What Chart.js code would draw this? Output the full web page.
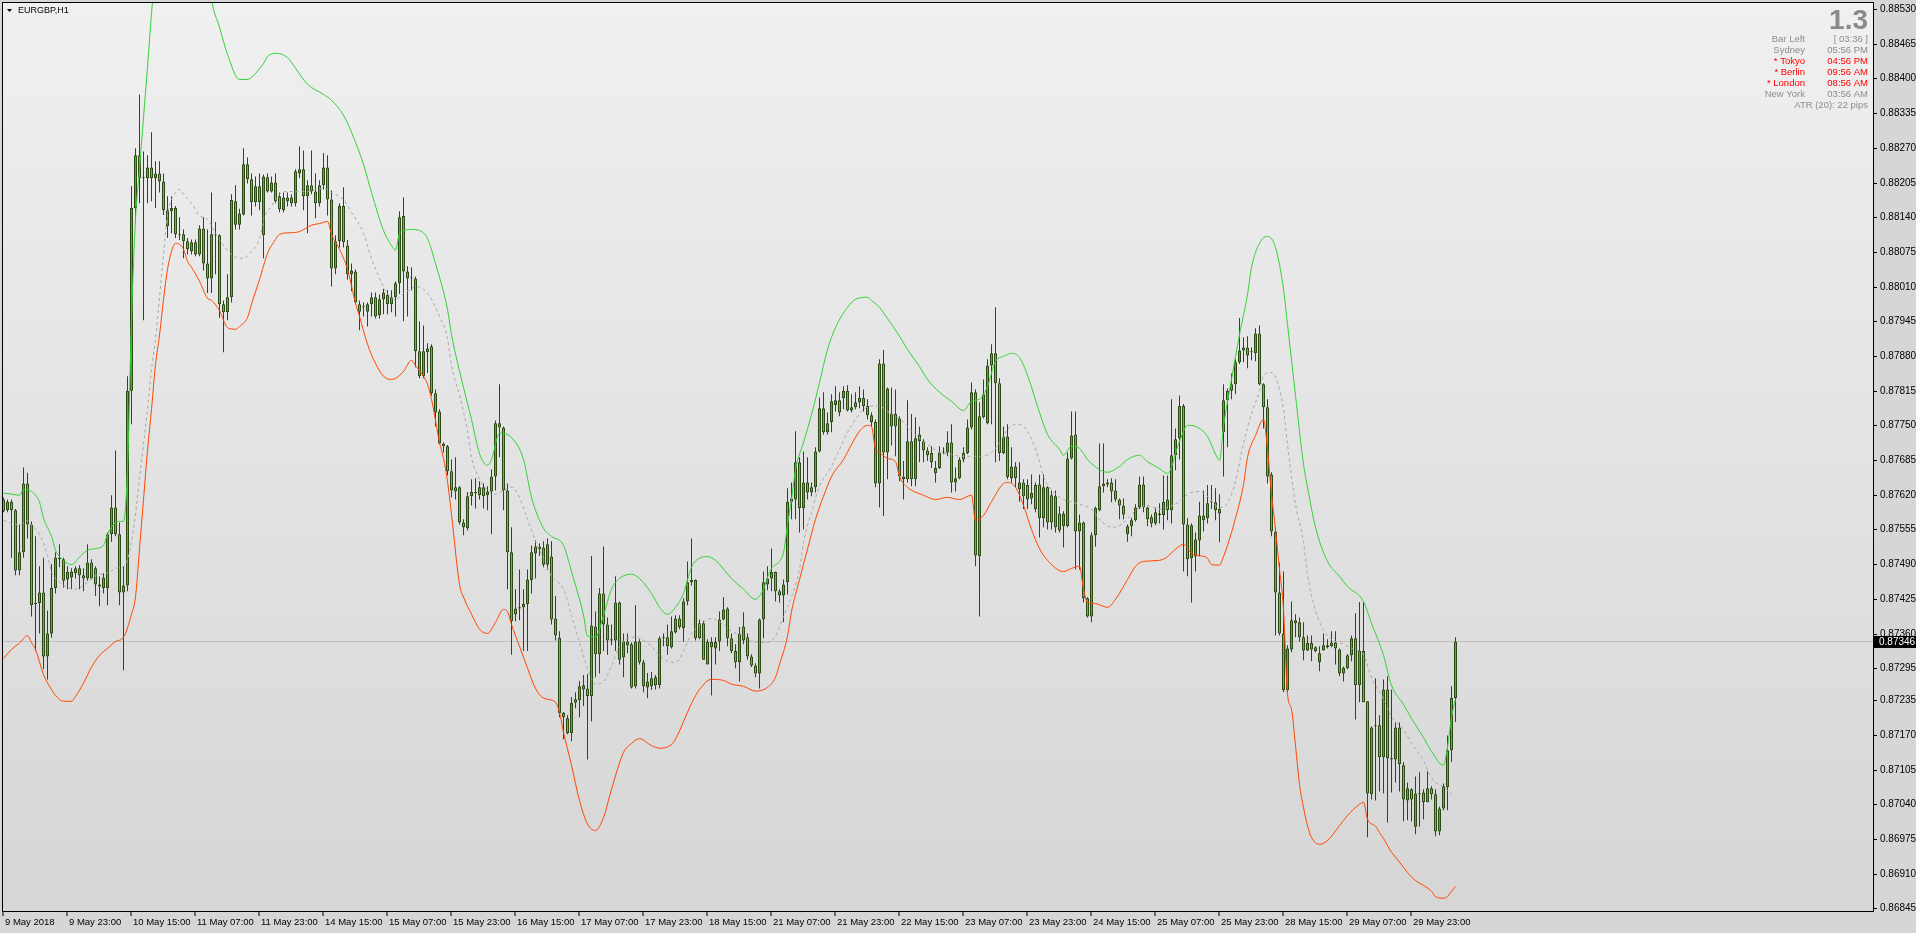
<!DOCTYPE html>
<html><head><meta charset="utf-8">
<script src="https://cdn.jsdelivr.net/npm/chart.js@4.4.1/dist/chart.umd.min.js"></script>
<style>html,body{margin:0;padding:0;background:#d6d6d6;overflow:hidden}canvas{display:block}</style>
</head><body>
<canvas id="c" width="1916" height="933"></canvas>
<script>
const symbolTitle = 'EURGBP,H1';
const timeLabelBars = [0,16,32,48,64,80,96,112,128,144,160,176,192,208,224,240,256,272,288,304,320,336,352];
const timeLabels = ['9 May 2018','9 May 23:00','10 May 15:00','11 May 07:00','11 May 23:00','14 May 15:00','15 May 07:00','15 May 23:00','16 May 15:00','17 May 07:00','17 May 23:00','18 May 15:00','21 May 07:00','21 May 23:00','22 May 15:00','23 May 07:00','23 May 23:00','24 May 15:00','25 May 07:00','25 May 23:00','28 May 15:00','29 May 07:00','29 May 23:00'];
const priceTicks = [0.88530,0.88465,0.88400,0.88335,0.88270,0.88205,0.88140,0.88075,0.88010,0.87945,0.87880,0.87815,0.87750,0.87685,0.87620,0.87555,0.87490,0.87425,0.87360,0.87295,0.87235,0.87170,0.87105,0.87040,0.86975,0.86910,0.86845];
const bidPrice = 0.87346;

const opens = [
0.87612,0.87592,0.87608,0.87592,0.87479,0.87513,0.87642,0.87565,0.87416,0.87418,
0.87438,0.87318,0.87361,0.87446,0.87500,0.87500,0.87462,0.87466,0.87474,0.87483,
0.87470,0.87464,0.87494,0.87483,0.87453,0.87446,0.87446,0.87547,0.87597,0.87547,
0.87438,0.87451,0.87816,0.88158,0.88257,0.88215,0.88214,0.88234,0.88214,0.88223,
0.88208,0.88124,0.88152,0.88158,0.88109,0.88109,0.88096,0.88077,0.88094,0.88071,
0.88120,0.88054,0.88026,0.88109,0.88107,0.87978,0.87963,0.87991,0.88171,0.88127,
0.88146,0.88240,0.88212,0.88169,0.88199,0.88107,0.88216,0.88189,0.88206,0.88180,
0.88154,0.88178,0.88178,0.88167,0.88223,0.88231,0.88180,0.88201,0.88189,0.88167,
0.88201,0.88234,0.88174,0.88045,0.88096,0.88162,0.88088,0.88034,0.88039,0.87978,
0.87974,0.87964,0.87978,0.87991,0.87957,0.87987,0.87995,0.87978,0.87991,0.88017,
0.88143,0.88039,0.88028,0.88026,0.87890,0.87843,0.87888,0.87899,0.87811,0.87777,
0.87717,0.87712,0.87665,0.87635,0.87635,0.87569,0.87558,0.87618,0.87626,0.87620,
0.87635,0.87620,0.87627,0.87655,0.87755,0.87747,0.87629,0.87513,0.87397,0.87408,
0.87410,0.87416,0.87461,0.87511,0.87524,0.87522,0.87490,0.87505,0.87389,0.87353,
0.87212,0.87202,0.87174,0.87231,0.87236,0.87256,0.87258,0.87244,0.87374,0.87322,
0.87436,0.87378,0.87348,0.87348,0.87419,0.87316,0.87346,0.87341,0.87262,0.87346,
0.87307,0.87260,0.87262,0.87279,0.87264,0.87352,0.87354,0.87335,0.87363,0.87389,
0.87371,0.87421,0.87457,0.87461,0.87380,0.87380,0.87345,0.87345,0.87333,0.87346,
0.87387,0.87408,0.87352,0.87328,0.87307,0.87374,0.87354,0.87318,0.87301,0.87286,
0.87387,0.87453,0.87464,0.87476,0.87440,0.87432,0.87457,0.87608,0.87612,0.87682,
0.87596,0.87644,0.87625,0.87635,0.87702,0.87783,0.87738,0.87757,0.87789,0.87798,
0.87802,0.87816,0.87779,0.87785,0.87794,0.87802,0.87787,0.87757,0.87757,0.87642,
0.87867,0.87700,0.87749,0.87772,0.87764,0.87655,0.87650,0.87721,0.87650,0.87721,
0.87721,0.87704,0.87699,0.87661,0.87671,0.87700,0.87700,0.87719,0.87644,0.87652,
0.87687,0.87699,0.87747,0.87813,0.87506,0.87766,0.87755,0.87863,0.87886,0.87830,
0.87699,0.87730,0.87652,0.87674,0.87631,0.87644,0.87639,0.87614,0.87639,0.87640,
0.87577,0.87635,0.87620,0.87618,0.87586,0.87562,0.87562,0.87689,0.87734,0.87552,
0.87569,0.87427,0.87393,0.87545,0.87592,0.87637,0.87640,0.87644,0.87629,0.87612,
0.87601,0.87547,0.87562,0.87573,0.87597,0.87640,0.87597,0.87579,0.87567,0.87583,
0.87583,0.87612,0.87592,0.87695,0.87727,0.87787,0.87565,0.87502,0.87505,0.87535,
0.87582,0.87577,0.87607,0.87607,0.87594,0.87738,0.87798,0.87816,0.87828,0.87869,
0.87891,0.87897,0.87888,0.87886,0.87923,0.87828,0.87785,0.87659,0.87552,0.87438,
0.87361,0.87255,0.87331,0.87386,0.87382,0.87354,0.87329,0.87343,0.87335,0.87307,
0.87329,0.87335,0.87337,0.87344,0.87331,0.87286,0.87296,0.87320,0.87352,0.87264,
0.87328,0.87234,0.87060,0.87187,0.87189,0.87129,0.87256,0.87125,0.87125,0.87185,
0.87114,0.87048,0.87069,0.86999,0.87061,0.87063,0.87045,0.87071,0.87060,0.86990,
0.87033,0.87073,0.87142,0.87240];

const highs = [
0.87616,0.87612,0.87612,0.87594,0.87565,0.87672,0.87662,0.87571,0.87543,0.87487,
0.87503,0.87404,0.87491,0.87513,0.87528,0.87503,0.87487,0.87483,0.87487,0.87489,
0.87483,0.87528,0.87500,0.87487,0.87468,0.87474,0.87550,0.87620,0.87704,0.87569,
0.87487,0.87843,0.88199,0.88270,0.88371,0.88264,0.88257,0.88300,0.88246,0.88246,
0.88223,0.88180,0.88180,0.88162,0.88141,0.88118,0.88102,0.88099,0.88099,0.88126,
0.88141,0.88118,0.88187,0.88132,0.88109,0.87985,0.88034,0.88184,0.88201,0.88157,
0.88270,0.88253,0.88223,0.88217,0.88223,0.88221,0.88223,0.88217,0.88223,0.88187,
0.88187,0.88187,0.88184,0.88231,0.88274,0.88266,0.88210,0.88266,0.88223,0.88210,
0.88261,0.88257,0.88191,0.88107,0.88167,0.88197,0.88098,0.88054,0.88043,0.87985,
0.87981,0.87981,0.88000,0.88000,0.87996,0.88007,0.88004,0.88004,0.88021,0.88152,
0.88178,0.88049,0.88047,0.88030,0.87946,0.87938,0.87905,0.87903,0.87818,0.87781,
0.87719,0.87714,0.87687,0.87691,0.87637,0.87575,0.87626,0.87650,0.87652,0.87646,
0.87642,0.87637,0.87668,0.87760,0.87828,0.87749,0.87642,0.87560,0.87444,0.87481,
0.87444,0.87481,0.87526,0.87536,0.87530,0.87534,0.87539,0.87534,0.87431,0.87365,
0.87214,0.87208,0.87242,0.87251,0.87272,0.87283,0.87285,0.87506,0.87402,0.87446,
0.87524,0.87391,0.87378,0.87468,0.87421,0.87361,0.87361,0.87344,0.87414,0.87350,
0.87312,0.87287,0.87289,0.87283,0.87356,0.87361,0.87378,0.87393,0.87395,0.87395,
0.87427,0.87496,0.87539,0.87462,0.87387,0.87385,0.87350,0.87354,0.87354,0.87402,
0.87429,0.87410,0.87361,0.87341,0.87373,0.87401,0.87361,0.87322,0.87305,0.87389,
0.87477,0.87487,0.87520,0.87477,0.87444,0.87462,0.87633,0.87644,0.87740,0.87691,
0.87702,0.87691,0.87644,0.87710,0.87803,0.87813,0.87775,0.87809,0.87824,0.87813,
0.87824,0.87826,0.87809,0.87813,0.87824,0.87818,0.87800,0.87775,0.87762,0.87875,
0.87892,0.87822,0.87822,0.87818,0.87768,0.87684,0.87798,0.87772,0.87766,0.87749,
0.87725,0.87710,0.87712,0.87684,0.87712,0.87710,0.87740,0.87753,0.87672,0.87691,
0.87710,0.87762,0.87831,0.87818,0.87794,0.87837,0.87875,0.87903,0.87972,0.87839,
0.87749,0.87753,0.87710,0.87682,0.87682,0.87650,0.87650,0.87659,0.87644,0.87659,
0.87659,0.87637,0.87629,0.87629,0.87599,0.87590,0.87700,0.87777,0.87777,0.87584,
0.87571,0.87429,0.87550,0.87599,0.87717,0.87717,0.87650,0.87652,0.87650,0.87614,
0.87614,0.87565,0.87578,0.87603,0.87655,0.87655,0.87599,0.87584,0.87597,0.87605,
0.87657,0.87657,0.87800,0.87745,0.87807,0.87791,0.87577,0.87567,0.87550,0.87608,
0.87629,0.87639,0.87639,0.87633,0.87622,0.87828,0.87820,0.87848,0.87875,0.87952,
0.87916,0.87918,0.87897,0.87933,0.87938,0.87830,0.87800,0.87663,0.87560,0.87494,
0.87477,0.87339,0.87421,0.87397,0.87391,0.87382,0.87357,0.87357,0.87337,0.87337,
0.87361,0.87350,0.87365,0.87365,0.87333,0.87299,0.87322,0.87357,0.87399,0.87420,
0.87420,0.87234,0.87187,0.87277,0.87208,0.87275,0.87281,0.87256,0.87194,0.87194,
0.87120,0.87082,0.87071,0.87093,0.87101,0.87069,0.87103,0.87075,0.87069,0.87037,
0.87080,0.87170,0.87262,0.87354];

const lows = [
0.87588,0.87588,0.87503,0.87470,0.87470,0.87503,0.87539,0.87393,0.87328,0.87361,
0.87294,0.87275,0.87353,0.87436,0.87485,0.87447,0.87444,0.87444,0.87464,0.87444,
0.87440,0.87460,0.87462,0.87431,0.87412,0.87436,0.87414,0.87533,0.87543,0.87414,
0.87292,0.87440,0.87753,0.88131,0.88167,0.87948,0.88167,0.88171,0.88158,0.88187,
0.88145,0.88102,0.88111,0.88102,0.88098,0.88064,0.88071,0.88071,0.88068,0.88068,
0.88041,0.87999,0.87999,0.88034,0.87952,0.87888,0.87948,0.87981,0.88118,0.88118,
0.88144,0.88204,0.88144,0.88161,0.88154,0.88064,0.88187,0.88187,0.88167,0.88150,
0.88150,0.88161,0.88161,0.88161,0.88214,0.88154,0.88111,0.88184,0.88139,0.88161,
0.88193,0.88144,0.88011,0.88034,0.88084,0.88084,0.88024,0.88002,0.87978,0.87929,
0.87955,0.87936,0.87955,0.87951,0.87951,0.87959,0.87959,0.87963,0.87955,0.87997,
0.87946,0.87955,0.88004,0.87860,0.87839,0.87839,0.87849,0.87807,0.87749,0.87715,
0.87700,0.87657,0.87616,0.87612,0.87565,0.87545,0.87554,0.87601,0.87595,0.87612,
0.87595,0.87592,0.87547,0.87629,0.87691,0.87592,0.87444,0.87321,0.87384,0.87386,
0.87328,0.87328,0.87436,0.87464,0.87506,0.87485,0.87481,0.87378,0.87348,0.87204,
0.87163,0.87172,0.87159,0.87221,0.87204,0.87225,0.87125,0.87196,0.87279,0.87286,
0.87328,0.87321,0.87339,0.87328,0.87303,0.87279,0.87324,0.87258,0.87258,0.87303,
0.87251,0.87240,0.87255,0.87256,0.87258,0.87337,0.87321,0.87333,0.87361,0.87369,
0.87346,0.87414,0.87451,0.87348,0.87350,0.87312,0.87303,0.87245,0.87303,0.87328,
0.87386,0.87337,0.87324,0.87296,0.87271,0.87341,0.87312,0.87298,0.87279,0.87258,
0.87352,0.87442,0.87440,0.87421,0.87419,0.87382,0.87434,0.87575,0.87575,0.87550,
0.87556,0.87612,0.87618,0.87625,0.87700,0.87734,0.87734,0.87738,0.87777,0.87768,
0.87781,0.87777,0.87775,0.87781,0.87783,0.87777,0.87762,0.87749,0.87635,0.87597,
0.87581,0.87650,0.87713,0.87693,0.87646,0.87612,0.87644,0.87637,0.87637,0.87682,
0.87682,0.87684,0.87671,0.87644,0.87669,0.87697,0.87693,0.87625,0.87627,0.87650,
0.87682,0.87697,0.87743,0.87487,0.87393,0.87764,0.87753,0.87753,0.87682,0.87684,
0.87697,0.87650,0.87644,0.87635,0.87608,0.87594,0.87594,0.87603,0.87588,0.87541,
0.87560,0.87556,0.87556,0.87550,0.87550,0.87522,0.87560,0.87687,0.87481,0.87481,
0.87419,0.87391,0.87382,0.87524,0.87590,0.87625,0.87635,0.87607,0.87608,0.87575,
0.87575,0.87533,0.87543,0.87571,0.87594,0.87588,0.87562,0.87560,0.87564,0.87567,
0.87556,0.87573,0.87567,0.87667,0.87687,0.87477,0.87468,0.87419,0.87477,0.87505,
0.87552,0.87567,0.87594,0.87573,0.87532,0.87655,0.87710,0.87800,0.87809,0.87866,
0.87869,0.87858,0.87873,0.87871,0.87826,0.87745,0.87642,0.87543,0.87357,0.87357,
0.87251,0.87251,0.87326,0.87354,0.87346,0.87311,0.87328,0.87309,0.87326,0.87290,
0.87329,0.87333,0.87335,0.87303,0.87281,0.87271,0.87294,0.87309,0.87200,0.87232,
0.87232,0.86979,0.87050,0.87048,0.87065,0.87061,0.87007,0.87063,0.87082,0.87065,
0.87009,0.87011,0.87009,0.86985,0.86999,0.87013,0.87045,0.87050,0.86981,0.86983,
0.87030,0.87030,0.87120,0.87195];

const closes = [
0.87590,0.87608,0.87592,0.87479,0.87513,0.87642,0.87565,0.87414,0.87418,0.87438,
0.87318,0.87361,0.87446,0.87503,0.87503,0.87460,0.87476,0.87477,0.87483,0.87470,
0.87464,0.87494,0.87464,0.87453,0.87449,0.87466,0.87547,0.87597,0.87547,0.87438,
0.87451,0.87816,0.88158,0.88257,0.88215,0.88214,0.88234,0.88214,0.88223,0.88208,
0.88154,0.88154,0.88158,0.88109,0.88107,0.88096,0.88081,0.88094,0.88071,0.88120,
0.88054,0.88026,0.88109,0.88107,0.87978,0.87963,0.87991,0.88173,0.88127,0.88148,
0.88240,0.88212,0.88169,0.88199,0.88169,0.88217,0.88189,0.88206,0.88171,0.88156,
0.88178,0.88171,0.88167,0.88227,0.88231,0.88180,0.88201,0.88189,0.88167,0.88201,
0.88234,0.88174,0.88045,0.88096,0.88162,0.88094,0.88034,0.88041,0.87981,0.87964,
0.87972,0.87978,0.87991,0.87955,0.87987,0.88000,0.87978,0.87991,0.88017,0.88141,
0.88039,0.88026,0.88026,0.87890,0.87843,0.87890,0.87895,0.87811,0.87775,0.87717,
0.87712,0.87665,0.87629,0.87627,0.87569,0.87560,0.87618,0.87626,0.87624,0.87635,
0.87618,0.87627,0.87655,0.87755,0.87747,0.87629,0.87513,0.87384,0.87408,0.87410,
0.87416,0.87462,0.87513,0.87524,0.87519,0.87490,0.87528,0.87387,0.87357,0.87212,
0.87204,0.87174,0.87231,0.87238,0.87262,0.87264,0.87244,0.87376,0.87322,0.87436,
0.87378,0.87348,0.87350,0.87419,0.87312,0.87346,0.87339,0.87260,0.87346,0.87307,
0.87262,0.87271,0.87277,0.87264,0.87352,0.87354,0.87337,0.87365,0.87389,0.87373,
0.87421,0.87457,0.87461,0.87352,0.87352,0.87312,0.87303,0.87335,0.87345,0.87387,
0.87406,0.87352,0.87328,0.87307,0.87361,0.87348,0.87318,0.87301,0.87286,0.87387,
0.87457,0.87464,0.87476,0.87440,0.87432,0.87453,0.87608,0.87614,0.87682,0.87596,
0.87644,0.87625,0.87635,0.87702,0.87783,0.87738,0.87755,0.87796,0.87798,0.87775,
0.87816,0.87779,0.87785,0.87794,0.87802,0.87787,0.87770,0.87770,0.87642,0.87867,
0.87700,0.87820,0.87773,0.87749,0.87655,0.87650,0.87721,0.87650,0.87727,0.87734,
0.87704,0.87695,0.87682,0.87671,0.87700,0.87700,0.87719,0.87644,0.87652,0.87687,
0.87699,0.87747,0.87813,0.87507,0.87768,0.87809,0.87863,0.87886,0.87830,0.87699,
0.87730,0.87654,0.87674,0.87652,0.87644,0.87618,0.87612,0.87624,0.87594,0.87577,
0.87635,0.87569,0.87569,0.87560,0.87554,0.87586,0.87689,0.87732,0.87552,0.87569,
0.87427,0.87393,0.87545,0.87596,0.87637,0.87642,0.87644,0.87627,0.87612,0.87601,
0.87584,0.87562,0.87573,0.87597,0.87640,0.87597,0.87575,0.87567,0.87588,0.87586,
0.87608,0.87592,0.87695,0.87725,0.87787,0.87565,0.87500,0.87564,0.87537,0.87582,
0.87573,0.87605,0.87607,0.87592,0.87586,0.87798,0.87816,0.87828,0.87869,0.87891,
0.87897,0.87882,0.87888,0.87923,0.87828,0.87785,0.87655,0.87552,0.87438,0.87361,
0.87255,0.87333,0.87386,0.87380,0.87354,0.87329,0.87343,0.87331,0.87328,0.87324,
0.87339,0.87339,0.87344,0.87333,0.87286,0.87297,0.87320,0.87352,0.87264,0.87328,
0.87232,0.87061,0.87185,0.87189,0.87129,0.87256,0.87127,0.87127,0.87185,0.87116,
0.87050,0.87071,0.87050,0.87061,0.87060,0.87045,0.87071,0.87060,0.86990,0.87033,
0.87075,0.87142,0.87240,0.87346];

// indicator lines: [bar index, price]
const upperBand = [[0,0.87624],[2,0.87622],[4,0.87620],[5,0.87631],[7,0.87627],[9,0.87607],[10,0.87577],[12,0.87543],[13,0.87517],[15,0.87498],[17,0.87490],[19,0.87504],[21,0.87517],[23,0.87520],[25,0.87526],[26,0.87547],[28,0.87569],[29,0.87571],[30,0.87571],[31,0.87669],[32,0.87948],[33,0.88137],[34,0.88231],[35,0.88328],[36,0.88422],[37,0.88523],[38,0.88605],[40,0.88755],[42,0.88868],[44,0.88924],[46,0.88905],[48,0.88811],[50,0.88680],[52,0.88549],[54,0.88497],[56,0.88446],[59,0.88399],[61,0.88399],[62,0.88403],[65,0.88429],[66,0.88442],[68,0.88448],[71,0.88440],[73,0.88420],[76,0.88390],[80,0.88371],[82,0.88360],[85,0.88332],[87,0.88300],[90,0.88240],[92,0.88187],[95,0.88116],[97,0.88088],[98,0.88079],[99,0.88111],[100,0.88116],[102,0.88118],[104,0.88116],[106,0.88101],[108,0.88054],[111,0.87968],[112,0.87921],[115,0.87822],[117,0.87762],[119,0.87698],[121,0.87676],[122,0.87687],[124,0.87736],[127,0.87728],[130,0.87687],[132,0.87616],[135,0.87558],[137,0.87543],[140,0.87526],[142,0.87477],[145,0.87395],[146,0.87356],[148,0.87354],[150,0.87395],[152,0.87444],[154,0.87464],[157,0.87472],[159,0.87464],[162,0.87436],[164,0.87410],[166,0.87397],[168,0.87410],[170,0.87436],[172,0.87485],[174,0.87502],[176,0.87505],[178,0.87498],[182,0.87464],[185,0.87444],[188,0.87425],[190,0.87444],[191,0.87466],[192,0.87483],[195,0.87513],[196,0.87565],[197,0.87612],[198,0.87668],[200,0.87719],[202,0.87771],[204,0.87831],[206,0.87893],[208,0.87934],[211,0.87972],[213,0.87987],[216,0.87991],[217,0.87985],[219,0.87972],[221,0.87951],[224,0.87918],[226,0.87893],[229,0.87861],[231,0.87837],[234,0.87813],[237,0.87796],[240,0.87779],[242,0.87796],[244,0.87800],[246,0.87824],[248,0.87871],[250,0.87880],[252,0.87886],[254,0.87878],[256,0.87845],[259,0.87775],[261,0.87734],[264,0.87706],[265,0.87695],[267,0.87712],[269,0.87708],[271,0.87687],[274,0.87668],[276,0.87663],[279,0.87674],[281,0.87687],[284,0.87695],[286,0.87683],[289,0.87670],[291,0.87661],[294,0.87721],[296,0.87751],[298,0.87749],[301,0.87730],[303,0.87697],[304,0.87685],[305,0.87749],[307,0.87837],[309,0.87921],[311,0.87996],[312,0.88047],[314,0.88092],[316,0.88105],[318,0.88084],[320,0.88006],[321,0.87940],[323,0.87807],[325,0.87678],[326,0.87635],[328,0.87560],[331,0.87496],[334,0.87468],[336,0.87449],[340,0.87421],[342,0.87380],[345,0.87320],[347,0.87264],[350,0.87228],[352,0.87202],[355,0.87166],[357,0.87140],[360,0.87114],[361,0.87148],[362,0.87204],[363,0.87238]];

const lowerBand = [[0,0.87314],[2,0.87331],[4,0.87343],[6,0.87357],[7,0.87344],[8,0.87331],[10,0.87284],[12,0.87256],[13,0.87245],[15,0.87234],[17,0.87234],[18,0.87243],[20,0.87268],[22,0.87298],[24,0.87320],[26,0.87333],[28,0.87346],[30,0.87354],[32,0.87397],[33,0.87430],[34,0.87519],[35,0.87612],[36,0.87704],[37,0.87781],[38,0.87865],[39,0.87920],[40,0.87987],[41,0.88043],[42,0.88077],[43,0.88092],[45,0.88081],[46,0.88058],[47,0.88047],[49,0.88021],[51,0.87989],[52,0.87985],[54,0.87966],[56,0.87934],[58,0.87931],[59,0.87936],[61,0.87953],[62,0.87978],[64,0.88024],[66,0.88073],[68,0.88099],[69,0.88109],[72,0.88112],[74,0.88114],[77,0.88126],[79,0.88129],[81,0.88133],[82,0.88109],[84,0.88081],[86,0.88043],[88,0.87980],[89,0.87955],[91,0.87903],[93,0.87867],[95,0.87843],[97,0.87837],[98,0.87839],[100,0.87852],[102,0.87873],[103,0.87863],[105,0.87843],[106,0.87828],[107,0.87800],[109,0.87719],[110,0.87689],[111,0.87646],[112,0.87584],[114,0.87453],[115,0.87429],[117,0.87397],[119,0.87369],[121,0.87361],[123,0.87382],[125,0.87406],[126,0.87402],[127,0.87378],[129,0.87337],[131,0.87296],[133,0.87258],[135,0.87240],[138,0.87232],[139,0.87213],[140,0.87176],[142,0.87114],[144,0.87048],[146,0.87004],[148,0.86992],[150,0.87016],[152,0.87069],[155,0.87138],[157,0.87155],[159,0.87164],[162,0.87151],[164,0.87146],[167,0.87153],[168,0.87163],[170,0.87196],[172,0.87230],[174,0.87256],[177,0.87275],[180,0.87273],[182,0.87266],[185,0.87262],[188,0.87253],[191,0.87260],[193,0.87279],[194,0.87303],[196,0.87356],[197,0.87402],[199,0.87462],[201,0.87519],[203,0.87575],[205,0.87618],[207,0.87655],[210,0.87687],[212,0.87715],[214,0.87740],[216,0.87751],[217,0.87749],[218,0.87706],[219,0.87700],[221,0.87689],[223,0.87683],[224,0.87655],[226,0.87635],[230,0.87620],[233,0.87612],[236,0.87616],[239,0.87612],[242,0.87620],[243,0.87573],[245,0.87582],[247,0.87608],[250,0.87642],[251,0.87644],[253,0.87635],[255,0.87601],[257,0.87556],[259,0.87520],[261,0.87498],[265,0.87477],[267,0.87483],[269,0.87487],[270,0.87444],[271,0.87419],[273,0.87417],[276,0.87410],[278,0.87425],[281,0.87462],[283,0.87487],[285,0.87496],[289,0.87498],[291,0.87505],[293,0.87519],[295,0.87528],[297,0.87511],[299,0.87507],[301,0.87502],[302,0.87490],[304,0.87489],[305,0.87505],[306,0.87526],[308,0.87577],[310,0.87640],[311,0.87691],[313,0.87732],[315,0.87762],[316,0.87706],[317,0.87622],[318,0.87556],[319,0.87481],[320,0.87406],[321,0.87247],[322,0.87219],[323,0.87151],[324,0.87078],[325,0.87035],[326,0.87001],[327,0.86979],[329,0.86966],[331,0.86973],[334,0.87001],[336,0.87020],[339,0.87041],[340,0.87045],[341,0.87013],[343,0.87000],[344,0.86988],[345,0.86977],[347,0.86951],[348,0.86942],[350,0.86923],[351,0.86913],[353,0.86898],[355,0.86889],[357,0.86878],[358,0.86868],[360,0.86865],[361,0.86868],[362,0.86878],[363,0.86887]];

const middleLine = [[0,0.87573],[2,0.87567],[4,0.87565],[6,0.87573],[7,0.87564],[9,0.87547],[11,0.87507],[12,0.87477],[14,0.87457],[16,0.87447],[18,0.87444],[21,0.87457],[23,0.87470],[26,0.87474],[28,0.87483],[30,0.87487],[31,0.87500],[32,0.87534],[33,0.87584],[34,0.87653],[35,0.87715],[36,0.87781],[37,0.87856],[38,0.87912],[39,0.87991],[40,0.88071],[41,0.88146],[42,0.88174],[43,0.88187],[44,0.88193],[45,0.88184],[47,0.88167],[49,0.88144],[51,0.88137],[53,0.88111],[55,0.88088],[57,0.88071],[59,0.88064],[60,0.88064],[62,0.88077],[64,0.88101],[65,0.88137],[67,0.88161],[69,0.88184],[71,0.88189],[73,0.88189],[76,0.88189],[78,0.88193],[80,0.88195],[82,0.88187],[85,0.88174],[87,0.88150],[90,0.88111],[92,0.88064],[95,0.88011],[97,0.87989],[98,0.87987],[100,0.87998],[102,0.88007],[103,0.88011],[105,0.88006],[107,0.87987],[109,0.87955],[111,0.87914],[112,0.87863],[114,0.87807],[116,0.87740],[117,0.87691],[119,0.87650],[121,0.87629],[123,0.87622],[125,0.87629],[127,0.87635],[129,0.87616],[131,0.87575],[133,0.87534],[135,0.87502],[137,0.87468],[140,0.87444],[142,0.87395],[144,0.87344],[146,0.87296],[148,0.87266],[150,0.87271],[152,0.87300],[154,0.87337],[157,0.87354],[159,0.87352],[162,0.87337],[164,0.87320],[167,0.87307],[168,0.87307],[170,0.87328],[172,0.87361],[175,0.87382],[177,0.87389],[180,0.87378],[182,0.87365],[185,0.87357],[187,0.87346],[191,0.87344],[193,0.87356],[195,0.87393],[197,0.87430],[199,0.87481],[200,0.87532],[202,0.87588],[204,0.87637],[207,0.87674],[209,0.87706],[211,0.87738],[213,0.87762],[215,0.87781],[217,0.87787],[219,0.87787],[221,0.87777],[223,0.87768],[225,0.87757],[227,0.87740],[229,0.87727],[232,0.87710],[234,0.87700],[237,0.87697],[239,0.87693],[242,0.87693],[244,0.87693],[247,0.87700],[249,0.87719],[251,0.87743],[253,0.87753],[255,0.87749],[257,0.87725],[259,0.87683],[260,0.87655],[262,0.87631],[265,0.87612],[267,0.87608],[269,0.87603],[272,0.87594],[274,0.87575],[276,0.87562],[278,0.87560],[280,0.87569],[282,0.87584],[284,0.87597],[286,0.87601],[289,0.87594],[291,0.87597],[294,0.87608],[296,0.87622],[299,0.87627],[301,0.87618],[304,0.87597],[306,0.87605],[308,0.87646],[310,0.87717],[312,0.87773],[314,0.87815],[315,0.87845],[317,0.87850],[318,0.87841],[320,0.87781],[321,0.87715],[323,0.87603],[325,0.87532],[326,0.87472],[328,0.87404],[330,0.87367],[332,0.87350],[335,0.87341],[337,0.87333],[340,0.87320],[342,0.87279],[345,0.87238],[347,0.87206],[350,0.87181],[352,0.87155],[355,0.87123],[357,0.87090],[360,0.87073],[362,0.87061]];

const spreadText = '1.3';
const clockNames = ['Bar Left','Sydney','* Tokyo','* Berlin','* London','New York'];
const clockTimes = ['[ 03:36 ]','05:56 PM','04:56 PM','09:56 AM','08:56 AM','03:56 AM'];
const clockOpen = [false,false,true,true,true,false];
const atrText = 'ATR (20): 22 pips';

// ---------- styling ----------
const BULL = '#3cb83c', BEAR = '#d6804f', OUTLINE = '#2b4a14';
const UPPER_C = '#35d035', LOWER_C = '#ff4500', MID_C = '#a6a6a6';
const FONT = '"Liberation Sans", Arial, sans-serif';
const AREA = {left: 2.5, top: 2.5, right: 1873.5, bottom: 911.5};

const bodies = opens.map((o, i) => ({x: i, y: [o, closes[i]]}));
const wicks = lows.map((l, i) => ({x: i, y: [l, highs[i]]}));
const bodyColors = opens.map((o, i) => closes[i] >= o ? BULL : BEAR);
const toXY = arr => arr.map(p => ({x: p[0], y: p[1]}));

const mt4Plugin = {
  id: 'mt4',
  beforeDraw(chart) {
    const {ctx} = chart;
    ctx.save();
    ctx.fillStyle = '#d6d6d6';
    ctx.fillRect(0, 0, chart.width, chart.height);
    const a = chart.chartArea;
    const g = ctx.createLinearGradient(0, a.top, 0, a.bottom);
    g.addColorStop(0, '#f0f0f0');
    g.addColorStop(1, '#d6d6d6');
    ctx.fillStyle = g;
    ctx.fillRect(a.left, a.top, a.right - a.left, a.bottom - a.top);
    ctx.restore();
  },
  beforeDatasetsDraw(chart) {
    const {ctx} = chart, ys = chart.scales.y, a = chart.chartArea;
    const y = Math.floor(ys.getPixelForValue(bidPrice)) + 0.5;
    ctx.save();
    ctx.strokeStyle = '#c0c0c0'; ctx.lineWidth = 1;
    ctx.beginPath(); ctx.moveTo(a.left, y); ctx.lineTo(a.right, y); ctx.stroke();
    ctx.restore();
  },
  afterDraw(chart) {
    const {ctx} = chart, xs = chart.scales.x, ys = chart.scales.y;
    ctx.save();
    // frame
    ctx.strokeStyle = '#000'; ctx.lineWidth = 1;
    ctx.strokeRect(2.5, 2.5, 1871, 909);
    // price axis
    ctx.font = '10px ' + FONT; ctx.fillStyle = '#000';
    ctx.textAlign = 'left'; ctx.textBaseline = 'middle';
    priceTicks.forEach(v => {
      const y = Math.floor(ys.getPixelForValue(v)) + 0.5;
      ctx.beginPath(); ctx.moveTo(1874, y); ctx.lineTo(1877, y); ctx.stroke();
      ctx.fillText(v.toFixed(5), 1880, y);
    });
    // time axis
    ctx.font = '9.5px ' + FONT;
    timeLabelBars.forEach((b, k) => {
      const x = Math.floor(xs.getPixelForValue(b)) + 0.5;
      ctx.beginPath(); ctx.moveTo(x - 0.5, 912); ctx.lineTo(x - 0.5, 916); ctx.stroke();
      ctx.fillText(timeLabels[k], x + 1.5, 922);
    });
    // bid box
    const by = Math.floor(ys.getPixelForValue(bidPrice));
    ctx.fillStyle = '#000';
    ctx.fillRect(1874, by - 5, 42, 12);
    ctx.fillStyle = '#fff'; ctx.font = '10px ' + FONT;
    ctx.fillText(bidPrice.toFixed(5), 1879, by + 1);
    // title
    ctx.fillStyle = '#000';
    ctx.beginPath(); ctx.moveTo(7, 9); ctx.lineTo(12, 9); ctx.lineTo(9.5, 12); ctx.closePath(); ctx.fill();
    ctx.font = '9px ' + FONT;
    ctx.fillText(symbolTitle, 18, 10.5);
    // info panel
    ctx.textAlign = 'right';
    ctx.font = 'bold 28px ' + FONT; ctx.fillStyle = '#8a8a8a';
    ctx.textBaseline = 'alphabetic';
    ctx.fillText(spreadText, 1868, 28.5);
    ctx.textBaseline = 'middle';
    ctx.font = '9.5px ' + FONT;
    const rowY = [39, 50, 61, 72, 83, 94];
    clockNames.forEach((n, k) => {
      ctx.fillStyle = clockOpen[k] ? '#ff0000' : '#8c8c8c';
      ctx.fillText(n, 1805, rowY[k]);
      ctx.fillText(clockTimes[k], 1868, rowY[k]);
    });
    ctx.fillStyle = '#8c8c8c';
    ctx.fillText(atrText, 1868, 105);
    ctx.restore();
  }
};

new Chart(document.getElementById('c'), {
  type: 'bar',
  data: {
    datasets: [
      {type: 'line', data: toXY(upperBand), borderColor: UPPER_C, borderWidth: 1, pointRadius: 0, cubicInterpolationMode: 'monotone', order: 0},
      {type: 'line', data: toXY(lowerBand), borderColor: LOWER_C, borderWidth: 1, pointRadius: 0, cubicInterpolationMode: 'monotone', order: 0},
      {type: 'line', data: toXY(middleLine), borderColor: MID_C, borderWidth: 1, borderDash: [3, 3], pointRadius: 0, cubicInterpolationMode: 'monotone', order: 0},
      {type: 'bar', data: bodies, backgroundColor: bodyColors, borderColor: OUTLINE, borderWidth: 1, borderSkipped: false, barThickness: 3, grouped: false, minBarLength: 1, inflateAmount: 0, order: 1},
      {type: 'bar', data: wicks, backgroundColor: OUTLINE, borderWidth: 0, barThickness: 1, grouped: false, minBarLength: 1, inflateAmount: 0, order: 2}
    ]
  },
  options: {
    responsive: false,
    animation: false,
    devicePixelRatio: 1,
    events: [],
    layout: {padding: {left: AREA.left, top: AREA.top, right: 1916 - AREA.right, bottom: 933 - AREA.bottom}},
    plugins: {legend: {display: false}, tooltip: {enabled: false}},
    scales: {
      x: {type: 'linear', display: false, offset: false, min: -0.25, max: 467.5},
      y: {type: 'linear', display: false, min: 0.868401, max: 0.885432}
    }
  },
  plugins: [mt4Plugin]
});
</script>
</body></html>
